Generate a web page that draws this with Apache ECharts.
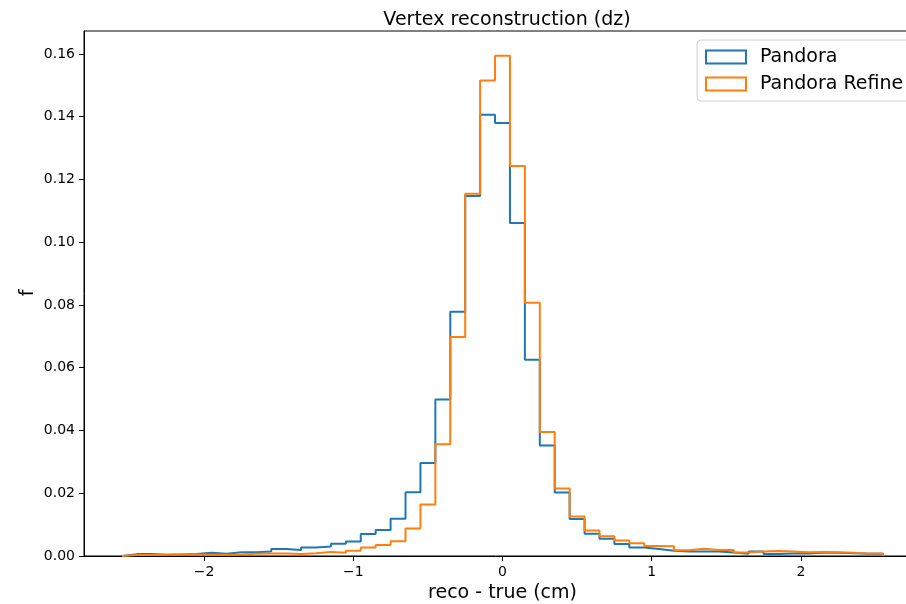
<!DOCTYPE html>
<html>
<head>
<meta charset="utf-8">
<script src="https://cdn.jsdelivr.net/npm/echarts@6/dist/echarts.min.js"></script>
<style>
html, body { margin: 0; padding: 0; background: #fff; }
#chart { width: 906px; height: 604px; }
</style>
</head>
<body>
<div id="chart"></div>
<script>
// bin centres, width 0.1
var binCenters = [-2.5,-2.4,-2.3,-2.2,-2.1,-2.0,-1.9,-1.8,-1.7,-1.6,-1.5,-1.4,-1.3,-1.2,-1.1,-1.0,-0.9,-0.8,-0.7,-0.6,-0.5,-0.4,-0.3,-0.2,-0.1,0.0,
    0.1,0.2,0.3,0.4,0.5,0.6,0.7,0.8,0.9,1.0,1.1,1.2,1.3,1.4,1.5,1.6,1.7,1.8,1.9,2.0,2.1,2.2,2.3,2.4,2.5];
var binWidth = 0.1;

var pandora = [0.0006,0.0006,0.0004,0.0005,0.0006,0.0010,0.0007,0.0012,0.0012,0.0014,0.0022,0.0019,0.0027,0.0030,0.0039,0.0046,0.0070,0.0083,0.0119,0.0203,0.0296,0.0499,0.0778,0.1147,0.1406,0.1380,
    0.1061,0.0625,0.0352,0.0202,0.0118,0.0071,0.0055,0.0038,0.0027,0.0022,0.0017,0.0014,0.0014,0.0014,0.0011,0.0007,0.0014,0.0006,0.0008,0.0008,0.0010,0.0010,0.0009,0.0007,0.0007];

var pandoraRefine = [0.0003,0.0003,0.0004,0.0005,0.0005,0.0004,0.0004,0.0005,0.0007,0.0008,0.0008,0.0006,0.0009,0.0013,0.0010,0.0017,0.0027,0.0035,0.0047,0.0088,0.0164,0.0356,0.0698,0.1154,0.1515,0.1594,
    0.1243,0.0807,0.0395,0.0215,0.0126,0.0081,0.0063,0.0049,0.0041,0.0032,0.0031,0.0018,0.0023,0.0019,0.0019,0.0011,0.0014,0.0016,0.0014,0.0012,0.0013,0.0012,0.0010,0.0008,0.0008];

var xTicks = [-2, -1, 0, 1, 2];
var yTicks = [0, 0.02, 0.04, 0.06, 0.08, 0.10, 0.12, 0.14, 0.16];

// outline of a step histogram
function stepPoints(vals) {
    var pts = [[binCenters[0] - binWidth / 2, 0]];
    for (var i = 0; i < vals.length; i++) {
        pts.push([binCenters[i] - binWidth / 2, vals[i]]);
        pts.push([binCenters[i] + binWidth / 2, vals[i]]);
    }
    pts.push([binCenters[binCenters.length - 1] + binWidth / 2, 0]);
    return pts;
}

var font = 'DejaVu Sans';

var option = {
    backgroundColor: '#fff',
    animation: false,
    textStyle: { fontFamily: font },
    title: {
        text: 'Vertex reconstruction (dz)',
        left: 502, top: 6,
        textAlign: 'center',
        textStyle: { fontFamily: font, fontSize: 19, fontWeight: 'normal', color: '#000' }
    },
    // y axis name, placed by hand (v6 pushes the axis name away from labels)
    graphic: [{
        type: 'text',
        x: 28, y: 293,
        rotation: Math.PI / 2,
        style: { text: 'f', fontFamily: font, fontSize: 19, fill: '#000', align: 'center', verticalAlign: 'middle' }
    }],
    legend: {
        left: 697, top: 40,
        orient: 'vertical',
        padding: [7, 10, 7, 8],
        itemGap: 7,
        itemWidth: 40,
        itemHeight: 13,
        icon: 'rect',
        backgroundColor: '#fff',
        borderColor: '#d0d0d0',
        borderWidth: 1,
        borderRadius: 4,
        textStyle: { fontFamily: font, fontSize: 19, color: '#000', lineHeight: 20, padding: [0, 0, 0, 9] },
        data: [
            { name: 'Pandora', itemStyle: { color: 'transparent', borderColor: '#1f77b4', borderWidth: 2 } },
            { name: 'Pandora Refine', itemStyle: { color: 'transparent', borderColor: '#ff7f0e', borderWidth: 2 } }
        ]
    },
    grid: {
        left: 84, top: 31, width: 837, height: 525,
        show: true, borderColor: '#000', borderWidth: 1,
        outerBoundsMode: 'none',
        containLabel: false
    },
    xAxis: {
        type: 'value',
        min: -2.805, max: 2.805,
        name: 'reco - true (cm)',
        nameLocation: 'middle',
        nameGap: 27,
        nameTextStyle: { fontFamily: font, fontSize: 19, color: '#000' },
        axisLine: { show: true, onZero: false, lineStyle: { color: '#000', width: 1 } },
        axisTick: { show: true, length: 5, customValues: xTicks, lineStyle: { color: '#000' } },
        axisLabel: {
            customValues: xTicks,
            margin: 9,
            fontFamily: font, fontSize: 14, color: '#000',
            formatter: function (v) { return String(v).replace('-', '\u2212'); }
        },
        splitLine: { show: false }
    },
    yAxis: {
        type: 'value',
        min: 0, max: 0.1673,
        axisLine: { show: true, onZero: false, lineStyle: { color: '#000', width: 1 } },
        axisTick: { show: true, length: 5, customValues: yTicks, lineStyle: { color: '#000' } },
        axisLabel: {
            customValues: yTicks,
            margin: 9,
            fontFamily: font, fontSize: 14, color: '#000',
            formatter: function (v) { return v.toFixed(2); }
        },
        splitLine: { show: false }
    },
    series: [
        {
            name: 'Pandora',
            type: 'line',
            data: stepPoints(pandora),
            showSymbol: false,
            symbol: 'none',
            color: '#1f77b4',
            lineStyle: { color: '#1f77b4', width: 2 },
            z: 2
        },
        {
            name: 'Pandora Refine',
            type: 'line',
            data: stepPoints(pandoraRefine),
            showSymbol: false,
            symbol: 'none',
            color: '#ff7f0e',
            lineStyle: { color: '#ff7f0e', width: 2 },
            z: 3
        }
    ]
};

var myChart = echarts.init(document.getElementById('chart'));
myChart.setOption(option);
</script>
</body>
</html>
